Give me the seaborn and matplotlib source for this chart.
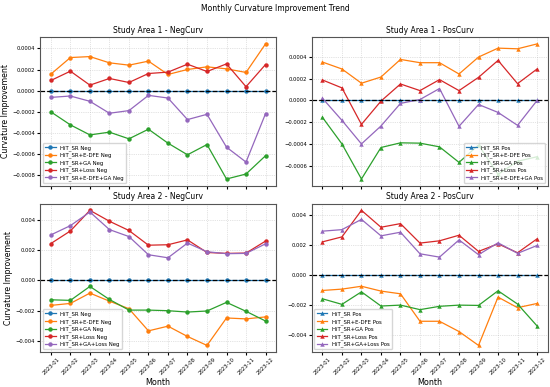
import numpy as np
import pandas as pd
import matplotlib
matplotlib.use("Agg")
import matplotlib.pyplot as plt
import seaborn as sns

months = ["2023-%02d" % m for m in range(1, 13)]
colors = ["#1f77b4", "#ff7f0e", "#2ca02c", "#d62728", "#9467bd"]

zero = [0.0] * 12

# Study Area 1 - NegCurv
sa1_neg_edfe = [0.000157, 0.000314, 0.000323, 0.000264, 0.000242, 0.000280,
                0.000154, 0.000201, 0.000226, 0.000207, 0.000173, 0.000443]
sa1_neg_ga = [-0.000200, -0.000323, -0.000418, -0.000392, -0.000455, -0.000364,
              -0.000496, -0.000606, -0.000509, -0.000835, -0.000788, -0.000615]
sa1_neg_loss = [0.000097, 0.000185, 0.000053, 0.000116, 0.000078, 0.000163,
                0.000176, 0.000251, 0.000182, 0.000254, 0.000038, 0.000248]
sa1_neg_edfe_ga = [-0.000063, -0.000050, -0.000100, -0.000213, -0.000188, -0.000044,
                   -0.000069, -0.000273, -0.000223, -0.000534, -0.000675, -0.000217]

# Study Area 1 - PosCurv
sa1_pos_edfe = [0.000354, 0.000290, 0.000159, 0.000216, 0.000378, 0.000348,
                0.000348, 0.000244, 0.000400, 0.000482, 0.000476, 0.000521]
sa1_pos_ga = [-0.000155, -0.000400, -0.000723, -0.000433, -0.000390, -0.000393,
              -0.000427, -0.000570, -0.000410, -0.000680, -0.000560, -0.000518]
sa1_pos_loss = [0.000189, 0.000116, -0.000220, -0.000006, 0.000152, 0.000091,
                0.000192, 0.000091, 0.000213, 0.000369, 0.000155, 0.000290]
sa1_pos_edfe_ga = [0.000021, -0.000183, -0.000400, -0.000235, -0.000027, 0.000009,
                   0.000110, -0.000238, -0.000037, -0.000110, -0.000229, 0.000000]

# Study Area 2 - NegCurv
sa2_neg_edfe = [-0.00166, -0.00153, -0.00085, -0.00138, -0.00188, -0.00334,
                -0.00303, -0.00371, -0.00430, -0.00249, -0.00255, -0.00242]
sa2_neg_ga = [-0.00129, -0.00133, -0.00041, -0.00127, -0.00197, -0.00197,
              -0.00201, -0.00210, -0.00203, -0.00146, -0.00205, -0.00269]
sa2_neg_loss = [0.00242, 0.00325, 0.00461, 0.00389, 0.00328, 0.00231,
                0.00234, 0.00266, 0.00183, 0.00177, 0.00179, 0.00258]
sa2_neg_ga_loss = [0.00299, 0.00360, 0.00450, 0.00334, 0.00288, 0.00168,
                   0.00148, 0.00245, 0.00188, 0.00175, 0.00177, 0.00240]

# Study Area 2 - PosCurv
sa2_pos_edfe = [-0.00103, -0.00094, -0.00075, -0.00107, -0.00125, -0.00307,
                -0.00307, -0.00375, -0.00467, -0.00147, -0.00217, -0.00189]
sa2_pos_ga = [-0.00158, -0.00195, -0.00112, -0.00206, -0.00200, -0.00230,
              -0.00208, -0.00200, -0.00202, -0.00105, -0.00193, -0.00338]
sa2_pos_loss = [0.00219, 0.00252, 0.00428, 0.00316, 0.00340, 0.00211,
                0.00226, 0.00263, 0.00156, 0.00206, 0.00147, 0.00239]
sa2_pos_ga_loss = [0.00290, 0.00300, 0.00368, 0.00259, 0.00283, 0.00140,
                   0.00118, 0.00232, 0.00134, 0.00213, 0.00143, 0.00195]

panels = [
    ("Study Area 1 - NegCurv", "o", "lower left",
     ["HiT_SR Neg", "HiT_SR+E-DFE Neg", "HiT_SR+GA Neg", "HiT_SR+Loss Neg", "HiT_SR+E-DFE+GA Neg"],
     [zero, sa1_neg_edfe, sa1_neg_ga, sa1_neg_loss, sa1_neg_edfe_ga]),
    ("Study Area 1 - PosCurv", "^", "lower right",
     ["HiT_SR Pos", "HiT_SR+E-DFE Pos", "HiT_SR+GA Pos", "HiT_SR+Loss Pos", "HiT_SR+E-DFE+GA Pos"],
     [zero, sa1_pos_edfe, sa1_pos_ga, sa1_pos_loss, sa1_pos_edfe_ga]),
    ("Study Area 2 - NegCurv", "o", "lower left",
     ["HiT_SR Neg", "HiT_SR+E-DFE Neg", "HiT_SR+GA Neg", "HiT_SR+Loss Neg", "HiT_SR+GA+Loss Neg"],
     [zero, sa2_neg_edfe, sa2_neg_ga, sa2_neg_loss, sa2_neg_ga_loss]),
    ("Study Area 2 - PosCurv", "^", "lower left",
     ["HiT_SR Pos", "HiT_SR+E-DFE Pos", "HiT_SR+GA Pos", "HiT_SR+Loss Pos", "HiT_SR+GA+Loss Pos"],
     [zero, sa2_pos_edfe, sa2_pos_ga, sa2_pos_loss, sa2_pos_ga_loss]),
]

fig, axes = plt.subplots(2, 2, figsize=(5.5, 3.87), dpi=100, sharex=True)
fig.subplots_adjust(left=0.073, right=0.996, top=0.904, bottom=0.09,
                    wspace=0.15, hspace=0.12)

for ax, (title, marker, loc, labels, series) in zip(axes.flat, panels):
    for lab, vals, col in zip(labels, series, colors):
        sns.lineplot(x=months, y=vals, ax=ax, marker=marker, markersize=3.2,
                     markeredgewidth=0, color=col, linewidth=0.9, label=lab)
    ax.axhline(0, color="black", linestyle="--", linewidth=0.9)
    ax.grid(True, linestyle=":", linewidth=0.5, alpha=0.7)
    ax.set_title(title, fontsize=5.5, pad=3)
    ax.tick_params(labelsize=3.8, length=2, pad=1.5)
    ax.legend(loc=loc, fontsize=3.9, framealpha=0.8, handlelength=2,
              borderpad=0.4, labelspacing=0.35)
    ax.set_xlabel("")
    ax.set_ylabel("")
    for s in ax.spines.values():
        s.set_edgecolor("#555555")
        s.set_linewidth(0.8)

for ax in axes[1]:
    ax.set_xlabel("Month", fontsize=5.8, labelpad=1)
    for t in ax.get_xticklabels():
        t.set_rotation(45)
axes[0, 0].set_ylabel("Curvature Improvement", fontsize=5.6, labelpad=2)
axes[1, 0].set_ylabel("Curvature Improvement", fontsize=5.6, labelpad=2)

fig.suptitle("Monthly Curvature Improvement Trend", fontsize=5.5, y=0.99)

plt.savefig("out.png", dpi=100)
